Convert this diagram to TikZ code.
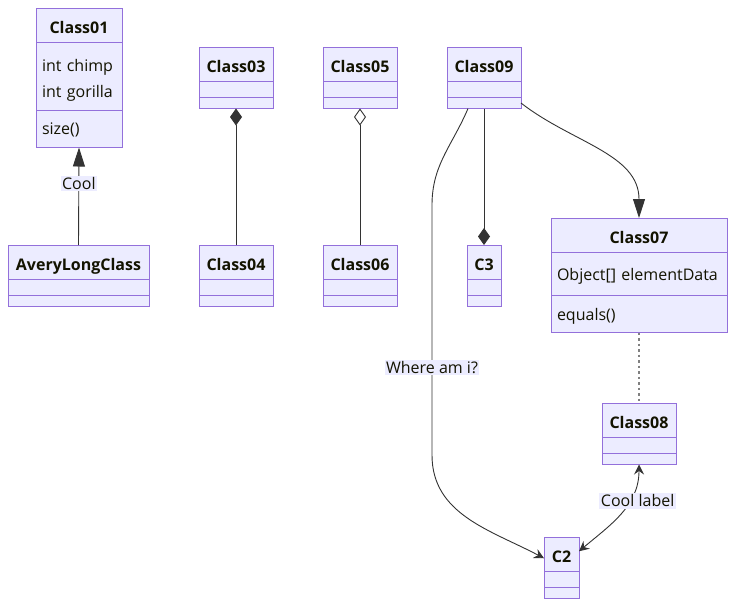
\documentclass[tikz,border=0pt]{standalone}
\usepackage{fontspec}
\setmainfont{Open Sans}
\usetikzlibrary{positioning, arrows.meta}

\definecolor{umlfill}{HTML}{ECECFF}
\definecolor{umlline}{HTML}{9370DB}
\definecolor{umltext}{HTML}{131300}
\definecolor{edgecol}{HTML}{333333}

\begin{document}
\begin{tikzpicture}[
   x=1pt, y=-1pt,
   every node/.style={font=\fontsize{16}{26}\selectfont, text=umltext},
   cls/.style={draw=umlline, fill=umlfill, line width=1pt, anchor=north,
         minimum height=34.5pt, inner sep=0pt, outer sep=0pt,
         text height=16pt, text depth=0pt,
         font=\fontsize{16}{26}\selectfont\bfseries},
   part/.style={draw=umlline, fill=umlfill, line width=1pt, align=left,
         inner ysep=0pt, inner xsep=6pt, outer sep=0pt},
   slota/.style={draw=umlline, fill=umlfill, line width=1pt, inner sep=0pt,
         outer sep=0pt, minimum height=16pt},
   slotb/.style={draw=umlline, fill=umlfill, line width=1pt, inner sep=0pt,
         outer sep=0pt, minimum height=11pt},
   lbl/.style={fill=umlfill, inner sep=1.5pt},
   conn/.style={draw=edgecol, line width=0.9pt},
   dotline/.style={draw=gray, line width=1.2pt, dash pattern=on 2.5pt off 3pt},
   ext/.style={-{Triangle[length=19pt, width=12pt]}},
   comp/.style={-{Diamond[length=17pt, width=12pt]}},
   aggr/.style={-{Diamond[length=17pt, width=12pt, fill=white]}},
   dep/.style={-{Stealth[length=10pt, width=10pt, inset=3.5pt]}},
   twoway/.style={{Stealth[length=10pt, width=10pt, inset=3.5pt]}-{Stealth[length=10pt, width=10pt, inset=3.5pt]}},
   node distance=0pt,
  ]
  \useasboundingbox (0,0) rectangle (735,606);

  % Class01 with its inheritor
  \node[cls, minimum width=86pt] (c01) at (79,8) {Class01};
  \node[part, below=of c01, text width=74pt, minimum height=68pt,
        text depth=22pt] (c01a) {int chimp\\int gorilla};
  \node[part, below=of c01a, text width=74pt, minimum height=37pt,
        text depth=0pt] (c01b) {size()};

  \node[cls, minimum width=141pt] (avl) at (78.5,245) {AveryLongClass};
  \node[slota, below=of avl, minimum width=141pt] (avla) {};
  \node[slotb, below=of avla, minimum width=141pt] (avlb) {};

  % composition / aggregation pairs
  \node[cls, minimum width=74pt] (c03) at (236,47) {Class03};
  \node[slota, below=of c03, minimum width=74pt] (c03a) {};
  \node[slotb, below=of c03a, minimum width=74pt] (c03b) {};
  \node[cls, minimum width=74pt] (c04) at (236,245) {Class04};
  \node[slota, below=of c04, minimum width=74pt] (c04a) {};
  \node[slotb, below=of c04a, minimum width=74pt] (c04b) {};

  \node[cls, minimum width=74pt] (c05) at (360,47) {Class05};
  \node[slota, below=of c05, minimum width=74pt] (c05a) {};
  \node[slotb, below=of c05a, minimum width=74pt] (c05b) {};
  \node[cls, minimum width=74pt] (c06) at (360,245) {Class06};
  \node[slota, below=of c06, minimum width=74pt] (c06a) {};
  \node[slotb, below=of c06a, minimum width=74pt] (c06b) {};

  % Class09 and what hangs off it
  \node[cls, minimum width=74pt] (c09) at (484,47) {Class09};
  \node[slota, below=of c09, minimum width=74pt] (c09a) {};
  \node[slotb, below=of c09a, minimum width=74pt] (c09b) {};

  \node[cls, minimum width=34pt] (c3) at (484,245) {C3};
  \node[slota, below=of c3, minimum width=34pt] (c3a) {};
  \node[slotb, below=of c3a, minimum width=34pt] (c3b) {};

  \node[cls, minimum width=176pt] (c07) at (639,218) {Class07};
  \node[part, below=of c07, text width=164pt, minimum height=43pt,
        text depth=0pt] (c07a) {Object[] elementData};
  \node[part, below=of c07a, text width=164pt, minimum height=37pt,
        text depth=0pt] (c07b) {equals()};

  \node[cls, minimum width=74pt] (c08) at (639,403) {Class08};
  \node[slota, below=of c08, minimum width=74pt] (c08a) {};
  \node[slotb, below=of c08a, minimum width=74pt] (c08b) {};

  \node[cls, minimum width=35pt] (c2) at (561.5,537) {C2};
  \node[slota, below=of c2, minimum width=35pt] (c2a) {};
  \node[slotb, below=of c2a, minimum width=35pt] (c2b) {};

  \coordinate (bendA) at (432,205);
  \coordinate (bendB) at (432,455);

  % relations
  \draw[conn, ext] (avl.north) -- node[lbl, pos=0.63] {Cool} (c01b.south);
  \draw[conn, comp] (c04.north) -- (c03b.south);
  \draw[conn, aggr] (c06.north) -- (c05b.south);
  \draw[conn, comp] (c09b.south) -- (c3.north);
  \draw[conn, ext] (c09b.east) to[out=-38, in=90] (c07.north);
  \draw[conn, dep] ([xshift=-16pt]c09b.south) to[out=-113, in=90] (bendA)
    -- node[lbl, pos=0.65] {Where am i?} (bendB)
    to[out=-90, in=152] ([yshift=-4pt]c2.west);
  \draw[dotline] (c07b.south) -- (c08.north);
  \draw[conn, twoway] (c08b.south) to[out=-90, in=40]
    node[lbl, pos=0.35, xshift=8pt] {Cool label} ([yshift=3pt]c2.east);
 \end{tikzpicture}
\end{document}
